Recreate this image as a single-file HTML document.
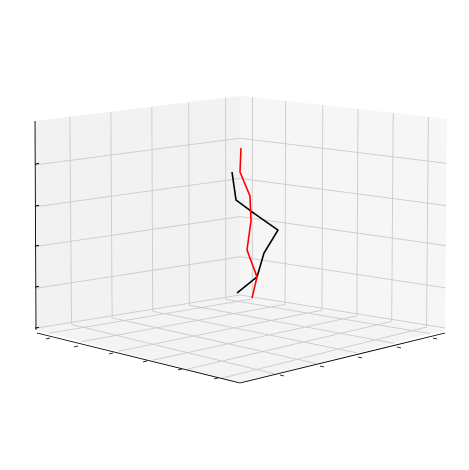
<!DOCTYPE html>
<html><head><meta charset="utf-8"><style>
html,body{margin:0;padding:0;background:#fff;}
svg{display:block;font-family:"Liberation Sans",sans-serif;}
</style></head><body>
<svg id="chart" width="469" height="470" viewBox="0 0 469 470" xmlns="http://www.w3.org/2000/svg">
<g id="panes"></g>
<g id="grid"></g>
<g id="axes"></g>
<g id="series"></g>
</svg>
<script>
// data: horizontal offset (screen-aligned units) and height (z units 0..10)
const blackX = [-0.8, -0.4, 1.2, 3.8, 2.4, 1.7, -0.3];
const blackZ = [7.56, 6.22, 5.65, 4.78, 3.68, 2.54, 1.77];
const redX = [0.1, 0.0, 1.0, 1.1, 0.7, 1.7, 1.2];
const redZ = [8.71, 7.56, 6.41, 5.22, 3.83, 2.54, 1.53];
const zTicks = [0, 2, 4, 6, 8];

const NS = "http://www.w3.org/2000/svg";
function mk(tag, attrs, parent){const e=document.createElementNS(NS,tag);for(const k in attrs)e.setAttribute(k,attrs[k]);parent.appendChild(e);return e;}
function lerp(a,b,t){return [a[0]+(b[0]-a[0])*t,a[1]+(b[1]-a[1])*t];}
function bil(c,u,v){ // c: [p00,p10,p11,p01]
  const a=lerp(c[0],c[1],u), b=lerp(c[3],c[2],u); return lerp(a,b,v);}
const leftPane=[[37,330],[240,297],[240,96],[35,121]];
const rightPane=[[240,297],[445,330],[447,119],[240,96]];
const floorPane=[[37,330],[240,297],[445,330],[240,383]]; // left, back, right, front
const panes=document.getElementById('panes'), grid=document.getElementById('grid'), axes=document.getElementById('axes'), series=document.getElementById('series');
function poly(pts,fill,name){const p=mk('polygon',{points:pts.map(q=>q.join(',')).join(' '),fill:fill,stroke:'none'},panes);

}
poly(leftPane,'#f2f2f2','left-pane');
poly(rightPane,'#f6f6f6','right-pane');
poly(floorPane,'#f4f4f4','floor-pane');
function gl(a,b,name){const l=mk('line',{x1:a[0],y1:a[1],x2:b[0],y2:b[1],stroke:'#cbcbcb','stroke-width':0.9},grid);

}
const lv=[.17,.37,.57,.75,.93], rv=[.06,.22,.40,.57,.74,.91];
// z scale: 0..10 -> 0..1 vertical fraction
function zf(z){return z/10;}
lv.forEach(u=>{gl(bil(leftPane,u,0),bil(leftPane,u,1),'left-pane-gridline');
  // floor line from left-back edge toward front-right edge
  gl(lerp(floorPane[0],floorPane[1],u),lerp(floorPane[3],floorPane[2],u),'floor-gridline');});
rv.forEach(u=>{gl(bil(rightPane,u,0),bil(rightPane,u,1),'right-pane-gridline');
  gl(lerp(floorPane[1],floorPane[2],u),lerp(floorPane[0],floorPane[3],u),'floor-gridline');});
zTicks.forEach(z=>{const v=zf(z)+0.01+0.195*0;const f=[.01,.20,.40,.59,.79][zTicks.indexOf(z)];
  gl(bil(leftPane,0,f),bil(leftPane,1,f),'left-pane-gridline');
  gl(bil(rightPane,0,f),bil(rightPane,1,f),'right-pane-gridline');});
// axis lines
function al(a,b,name){const l=mk('line',{x1:a[0],y1:a[1],x2:b[0],y2:b[1],stroke:'#000','stroke-width':0.9},axes);

}
al([35,121],[36,330],'z-axis-line');
al([37,333],[240,383],'x-axis-line');
al([240,383],[445,333],'y-axis-line');
[164,206,246,287,328].forEach(y=>al([35,y],[39,y-0.5],'z-tick'));
[[50,338],[78,346],[113,353],[147,361],[182,369],[218,378]].forEach(p=>al([p[0],p[1]],[p[0]-4,p[1]+1],'x-tick'));
[[280,375],[320,366],[358,357],[397,347],[433,338]].forEach(p=>al([p[0],p[1]],[p[0]+4,p[1]+1],'y-tick'));
// projection for series
function px(x){return 240+x*10;}
function py(z){return 330-z*20.9;}
function line(xs,zs,color,name){const pts=xs.map((x,i)=>px(x)+','+py(zs[i])).join(' ');
  const l=mk('polyline',{points:pts,fill:'none',stroke:color,'stroke-width':1.6,'stroke-linejoin':'round'},series);
  
  }
line(blackX,blackZ,'#000','black-series-line');
line(redX,redZ,'#ff0000','red-series-line');
</script>
</body></html>
